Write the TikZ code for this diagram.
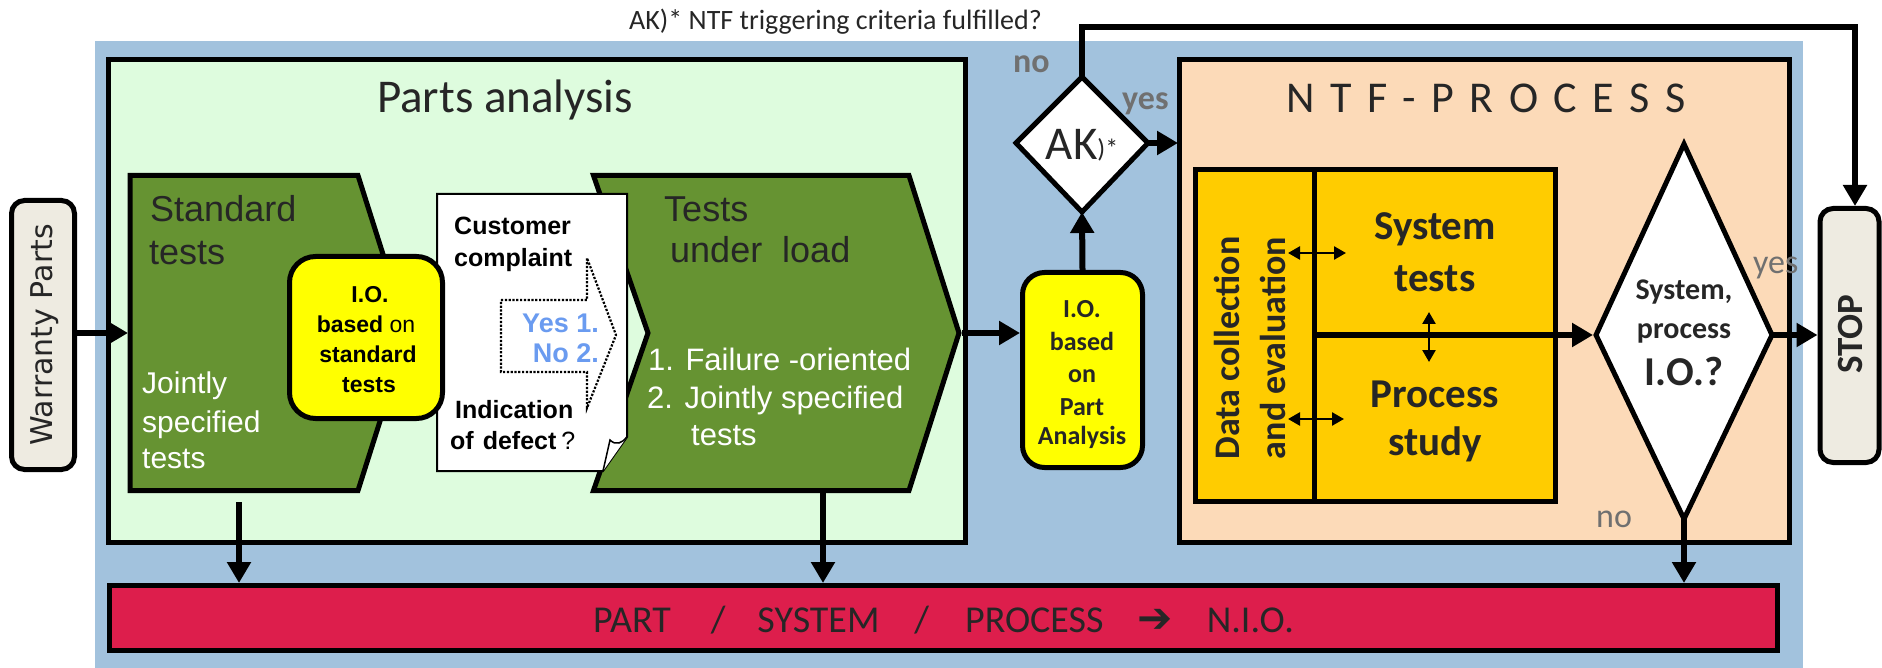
\documentclass[tikz,border=0pt]{standalone}
\usepackage{fontspec}
\setmainfont{Carlito}
\newfontfamily\carl{Carlito}
\newfontfamily\arl{Liberation Sans}
\newfontfamily\dvs{DejaVu Sans}
\usetikzlibrary{arrows.meta}
\newcommand\fsz[1]{\fontsize{#1}{#1}\selectfont}

\definecolor{bluebg}{HTML}{A2C2DD}
\definecolor{lgreen}{HTML}{DEFCDE}
\definecolor{dgreen}{HTML}{669332}
\definecolor{peach}{HTML}{FCDAB8}
\definecolor{redbar}{HTML}{DD1E4C}
\definecolor{gold}{HTML}{FFCC00}
\definecolor{yel}{HTML}{FFFF00}
\definecolor{beige}{HTML}{EEEBE1}
\definecolor{ink}{HTML}{262626}
\definecolor{graytxt}{HTML}{707070}
\definecolor{bluetxt}{HTML}{6A9BF0}

\begin{document}
\begin{tikzpicture}[x=1pt,y=-1pt,
  frame/.style={draw=black, line width=5pt},
  flow/.style={line width=6pt, -{Triangle[length=21pt,width=23pt]}},
  twoway/.style={line width=2.5pt, {Triangle[length=12pt,width=13pt]}-{Triangle[length=12pt,width=13pt]}},
  lbl/.style={inner sep=0pt, anchor=base, text=ink},
  boxnode/.style={frame, inner sep=0pt}]
\useasboundingbox (0,0) rectangle (1882,668);

% background panel
\fill[bluebg] (95,41) rectangle (1803,668);

% main frames
\draw[frame, fill=lgreen] (108.5,59.5) rectangle (965.5,542.5);
\draw[frame, fill=peach] (1179.5,59.5) rectangle (1789,542.5);
\node[boxnode, fill=redbar, minimum width=1668pt, minimum height=65pt] (nio) at (943.5,618) {};

% chevrons of the parts analysis
\draw[frame, fill=dgreen] (130,175.5) -- (358,175.5) -- (408,333) -- (358,490.5) -- (130,490.5) -- cycle;
\draw[frame, fill=dgreen] (593.5,175.5) -- (909,175.5) -- (959,333) -- (909,490.5) -- (593.5,490.5) -- (648,333) -- cycle;
\coordinate (stdL) at (128,333);
\coordinate (stdB) at (239,502);
\coordinate (tulB) at (823,493);
\coordinate (tulTip) at (962,333);

% customer complaint sheet with curled corner
\draw[line width=2pt, fill=white] (437,194) -- (627,194) -- (627,437) -- (603,471) -- (437,471) -- cycle;
\draw[line width=1.5pt, fill=white] (603,471) -- (610,440) .. controls (616,446) and (622,443) .. (627,437);
\draw[line width=2.2pt, dash pattern=on 2.2pt off 1.6pt] (501,300) -- (587,300) -- (587,258) -- (616,335) -- (587,408) -- (587,372) -- (501,372) -- cycle;

% I.O. boxes
\node[boxnode, fill=yel, rounded corners=26pt, minimum width=153pt, minimum height=162pt] (iostd) at (366,337.5) {};
\node[boxnode, fill=yel, rounded corners=22pt, minimum width=120pt, minimum height=195pt] (iopa) at (1082.5,370) {};

% warranty parts and stop
\node[boxnode, fill=beige, rounded corners=13pt, minimum width=63pt, minimum height=269pt] (warranty) at (43,335) {};
\node[boxnode, fill=beige, rounded corners=13pt, minimum width=59pt, minimum height=254pt] (stop) at (1849.5,335.5) {};

% AK decision with its feedback line
\coordinate (akT) at (1082,77);
\coordinate (akL) at (1016,143);
\coordinate (akR) at (1148,143);
\coordinate (akB) at (1082,212);
\coordinate (fbA) at (1082,27);
\coordinate (fbB) at (1855,27);
\draw[flow] (akT) -- (fbA) -- (fbB) -- (stop.north -| fbB);
\draw[frame, fill=white] (akT) -- (akR) -- (akB) -- (akL) -- cycle;

% NTF inner block
\draw[frame, fill=gold] (1195.5,169.5) rectangle (1555.5,501.5);
\coordinate (divT) at (1314,169.5);
\coordinate (divB) at (1314,504);
\draw[line width=5pt] (divT) -- (divB);

% system / process decision
\coordinate (sysT) at (1684,144);
\coordinate (sysL) at (1596,335);
\coordinate (sysR) at (1772,335);
\coordinate (sysB) at (1684,519);
\draw[frame, fill=white] (sysT) -- (sysR) -- (sysB) -- (sysL) -- cycle;

% connectors
\draw[flow] (warranty.east |- stdL) -- (stdL);
\draw[flow] (stdB) -- (stdB |- nio.north);
\draw[flow] (tulB) -- (tulB |- nio.north);
\draw[flow] (tulTip) -- (iopa.west |- tulTip);
\draw[flow] (iopa.north) -- (akB);
\draw[flow] (akR) -- (1178,143);
\draw[flow] (divB |- sysL) -- (1593,335);
\draw[flow] (sysR) -- (stop.west |- sysR);
\draw[flow] (sysB) -- (sysB |- nio.north);
\draw[twoway] (1288,253) -- (1346,253);
\draw[twoway] (1288,419) -- (1344,419);
\draw[twoway] (1429,312) -- (1429,362);

% texts
\node[lbl, anchor=base west, font=\carl\fsz{28}] (akq) at (629,30) {AK)* NTF triggering criteria fulfilled?};
\node[lbl, font=\carl\fsz{47}] (pa) at (505,113) {Parts analysis};
\node[lbl, font=\carl\fsz{44}] (ntf) at (1486,113) {\spaceskip=15.5pt N T F - P R O C E S S};

\node[lbl, anchor=base west, font=\arl\fsz{36}] (std1) at (150,222) {Standard};
\node[lbl, anchor=base west, font=\arl\fsz{36}] (std2) at (149,265) {tests};
\node[lbl, anchor=base west, font=\arl\fsz{30}, text=white] (js1) at (142,393) {Jointly};
\node[lbl, anchor=base west, font=\arl\fsz{30}, text=white] (js2) at (142,432) {specified};
\node[lbl, anchor=base west, font=\arl\fsz{30}, text=white] (js3) at (142,468) {tests};

\node[lbl, font=\arl\bfseries\fsz{23}, text=black] (ios1) at (370,303) {I.O.};
\node[lbl, font=\arl\bfseries\fsz{23}, text=black] (ios2) at (366,332) {based {\mdseries on}};
\node[lbl, font=\arl\bfseries\fsz{23}, text=black] (ios3) at (368,362) {standard};
\node[lbl, font=\arl\bfseries\fsz{23}, text=black] (ios4) at (369,392) {tests};

\node[lbl, anchor=base west, font=\arl\bfseries\fsz{25}, text=black] (cc1) at (454,235) {Customer};
\node[lbl, anchor=base west, font=\arl\bfseries\fsz{25}, text=black] (cc2) at (454,267) {complaint};
\node[lbl, anchor=base west, font=\arl\bfseries\fsz{25}, text=black] (cc3) at (455,418) {Indication};
\node[lbl, anchor=base west, font=\arl\bfseries\fsz{25}, text=black] (cc4) at (450,449) {of\hspace{9pt}defect\hspace{5pt}{\mdseries ?}};
\node[lbl, anchor=base east, font=\arl\bfseries\fsz{27}, text=bluetxt] (yn1) at (599,333) {Yes 1.};
\node[lbl, anchor=base east, font=\arl\bfseries\fsz{27}, text=bluetxt] (yn2) at (599,362) {No 2.};

\node[lbl, anchor=base west, font=\arl\fsz{36}] (tul1) at (664,222) {Tests};
\node[lbl, anchor=base west, font=\arl\fsz{36}] (tul2) at (670,263) {under\hspace{20pt}load};
\node[lbl, anchor=base west, font=\arl\fsz{31}, text=white] (fo1) at (648,370) {1. Failure -oriented};
\node[lbl, anchor=base west, font=\arl\fsz{31}, text=white] (fo2) at (647,408) {2. Jointly specified};
\node[lbl, anchor=base west, font=\arl\fsz{31}, text=white] (fo3) at (691,445) {tests};

\node[lbl, font=\carl\bfseries\fsz{26}] (iop1) at (1082,317) {I.O.};
\node[lbl, font=\carl\bfseries\fsz{26}] (iop2) at (1082,350) {based};
\node[lbl, font=\carl\bfseries\fsz{26}] (iop3) at (1082,382) {on};
\node[lbl, font=\carl\bfseries\fsz{26}] (iop4) at (1082,415) {Part};
\node[lbl, font=\carl\bfseries\fsz{26}] (iop5) at (1082,444) {Analysis};

\node[lbl, font=\carl\fsz{47}] (ak) at (1082,160) {AK{\fsz{26}\raisebox{2pt}{)*}}};
\node[lbl, anchor=base west, font=\carl\bfseries\fsz{34}, text=graytxt] (akno) at (1013,73) {no};
\node[lbl, anchor=base west, font=\carl\bfseries\fsz{34}, text=graytxt] (akyes) at (1122,110) {yes};

\node[lbl, rotate=90, font=\carl\bfseries\fsz{36}] (dc1) at (1239,348) {Data collection};
\node[lbl, rotate=90, font=\carl\bfseries\fsz{36}] (dc2) at (1285,348) {and evaluation};
\node[lbl, font=\carl\bfseries\fsz{41}] (st1) at (1435,240) {System};
\node[lbl, font=\carl\bfseries\fsz{41}] (st2) at (1435,292) {tests};
\node[lbl, font=\carl\bfseries\fsz{41}] (ps1) at (1435,407) {Process};
\node[lbl, font=\carl\bfseries\fsz{41}] (ps2) at (1435,455) {study};

\node[lbl, font=\carl\bfseries\fsz{30}] (sp1) at (1684,300) {System,};
\node[lbl, font=\carl\bfseries\fsz{30}] (sp2) at (1684,338) {process};
\node[lbl, font=\carl\bfseries\fsz{41}] (sp3) at (1684,385) {I.O.?};
\node[lbl, anchor=base west, font=\carl\fsz{34}, text=graytxt] (sysyes) at (1753,274) {yes};
\node[lbl, anchor=base west, font=\carl\fsz{34}, text=graytxt] (sysno) at (1596,527) {no};

\node[lbl, rotate=90, font=\dvs\fsz{30}] (wptxt) at (52,335) {Warranty Parts};
\node[lbl, rotate=90, font=\carl\bfseries\fsz{37}] (stoptxt) at (1862,334) {STOP};

\node[lbl, anchor=base west, font=\carl\fsz{38}] (niotxt) at (593,632)
  {PART\hspace{40pt}/\hspace{32pt}SYSTEM\hspace{35pt}/\hspace{36pt}PROCESS\hspace{34pt}{\dvs\bfseries\fsz{42}➔}\hspace{34pt}N.I.O.};
\end{tikzpicture}
\end{document}
